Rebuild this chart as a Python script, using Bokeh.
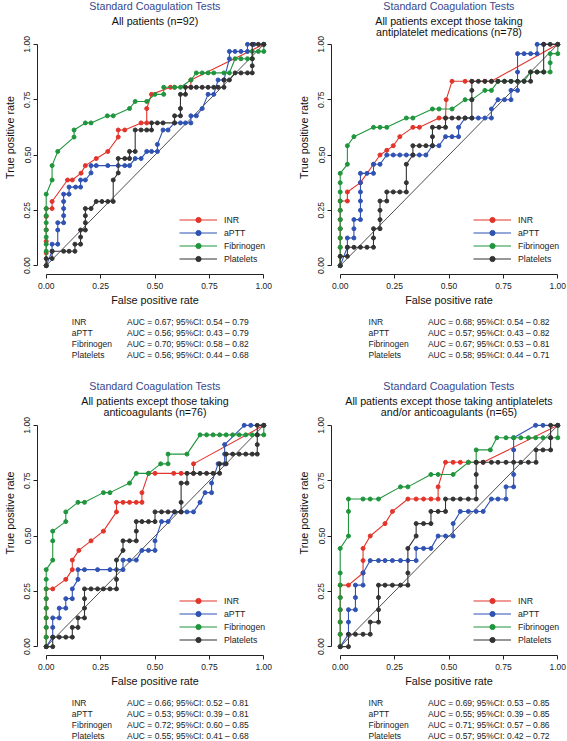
from bokeh.plotting import figure
from bokeh.models import Range1d, FixedTicker, Legend, LegendItem, PrintfTickFormatter
from bokeh.core.properties import value
from bokeh.layouts import column, row
from bokeh.embed import file_html
from bokeh.resources import INLINE

FONT = "Liberation Sans"
TITLE_COLOR = "#38478a"
tests = ["INR", "aPTT", "Fibrinogen", "Platelets"]
colors = ["#e3342b", "#2f52b3", "#1f953d", "#333333"]
tick_values = [0, 0.25, 0.5, 0.75, 1.0]
tick_labels = ["0.00", "0.25", "0.50", "0.75", "1.00"]
diag = [0, 1]
main_title = "Standard Coagulation Tests"

# ---------------- Panel 1: All patients (n=92) ----------------
p1_subtitle = ["All patients (n=92)"]
p1_inr = [(0, 0), (0, 0.057), (0, 0.11), (0, 0.162), (0, 0.222), (0, 0.258), (0.027, 0.258), (0.027, 0.29),
          (0.098, 0.387), (0.12, 0.387), (0.16, 0.418), (0.18, 0.452), (0.23, 0.484), (0.283, 0.516),
          (0.331, 0.581), (0.331, 0.613), (0.361, 0.613), (0.436, 0.645), (0.462, 0.645), (0.462, 0.71),
          (0.484, 0.774), (0.571, 0.806), (0.59, 0.806), (0.665, 0.806), (0.665, 0.839), (1, 1)]
p1_aptt = [(0, 0), (0.027, 0.065), (0.027, 0.097), (0.053, 0.097), (0.053, 0.161), (0.053, 0.194), (0.08, 0.194),
           (0.08, 0.226), (0.08, 0.258), (0.08, 0.29), (0.08, 0.323), (0.105, 0.323), (0.105, 0.355),
           (0.135, 0.355), (0.158, 0.355), (0.158, 0.387), (0.18, 0.387), (0.206, 0.419), (0.206, 0.452),
           (0.23, 0.452), (0.283, 0.452), (0.331, 0.452), (0.361, 0.452), (0.383, 0.452), (0.409, 0.484),
           (0.436, 0.484), (0.462, 0.516), (0.484, 0.516), (0.511, 0.516), (0.511, 0.548), (0.537, 0.613),
           (0.56, 0.613), (0.59, 0.645), (0.617, 0.645), (0.64, 0.645), (0.665, 0.645), (0.665, 0.677),
           (0.69, 0.677), (0.717, 0.71), (0.744, 0.774), (0.77, 0.774), (0.79, 0.839), (0.817, 0.839),
           (0.842, 0.935), (0.842, 0.968), (0.868, 0.968), (0.895, 0.968), (0.925, 0.968), (0.925, 1.0),
           (0.955, 1.0), (1, 1)]
p1_fib = [(0, 0), (0, 0.065), (0, 0.097), (0, 0.129), (0, 0.161), (0, 0.194), (0, 0.226), (0, 0.258), (0, 0.323),
          (0.027, 0.387), (0.027, 0.452), (0.053, 0.516), (0.128, 0.581), (0.128, 0.613), (0.18, 0.645),
          (0.206, 0.645), (0.281, 0.677), (0.308, 0.677), (0.383, 0.71), (0.409, 0.742), (0.462, 0.742),
          (0.5, 0.774), (0.54, 0.774), (0.54, 0.806), (0.59, 0.806), (0.617, 0.806), (0.665, 0.839),
          (0.69, 0.871), (0.717, 0.871), (0.744, 0.871), (0.77, 0.871), (0.817, 0.871), (0.842, 0.871),
          (0.868, 0.935), (0.895, 0.935), (0.925, 0.935), (0.947, 0.935), (0.947, 0.968), (0.975, 0.968),
          (1, 0.968), (1, 1)]
p1_plt = [(0, 0), (0, 0.032), (0.027, 0.032), (0.027, 0.065), (0.08, 0.065), (0.105, 0.065), (0.132, 0.065),
          (0.132, 0.097), (0.158, 0.097), (0.158, 0.129), (0.158, 0.161), (0.18, 0.161), (0.18, 0.194),
          (0.18, 0.226), (0.18, 0.258), (0.206, 0.258), (0.23, 0.29), (0.256, 0.29), (0.283, 0.29),
          (0.308, 0.29), (0.308, 0.387), (0.331, 0.419), (0.331, 0.484), (0.361, 0.484), (0.383, 0.484),
          (0.383, 0.516), (0.409, 0.516), (0.409, 0.613), (0.436, 0.613), (0.462, 0.613), (0.484, 0.613),
          (0.484, 0.645), (0.511, 0.645), (0.537, 0.645), (0.59, 0.645), (0.59, 0.677), (0.617, 0.677),
          (0.617, 0.71), (0.617, 0.774), (0.64, 0.774), (0.64, 0.806), (0.665, 0.806), (0.69, 0.806),
          (0.717, 0.806), (0.744, 0.806), (0.77, 0.806), (0.79, 0.806), (0.817, 0.806), (0.817, 0.839),
          (0.842, 0.839), (0.868, 0.871), (0.895, 0.871), (0.925, 0.871), (0.947, 0.871), (0.947, 0.903),
          (0.947, 0.935), (0.947, 1.0), (0.975, 1.0), (1, 1)]
p1_auc = [0.67, 0.56, 0.70, 0.56]
p1_ci_lo = [0.54, 0.43, 0.58, 0.44]
p1_ci_hi = [0.79, 0.79, 0.82, 0.68]

# ---------------- Panel 2: except antiplatelet medications (n=78) ----------------
p2_subtitle = ["All patients except those taking", "antiplatelet medications (n=78)"]
p2_inr = [(0, 0), (0, 0.083), (0, 0.125), (0, 0.167), (0, 0.208), (0, 0.25), (0, 0.292), (0.033, 0.292),
          (0.033, 0.333), (0.093, 0.375), (0.153, 0.458), (0.183, 0.5), (0.214, 0.521), (0.244, 0.542),
          (0.274, 0.583), (0.334, 0.625), (0.364, 0.625), (0.454, 0.667), (0.484, 0.667), (0.487, 0.75),
          (0.514, 0.833), (0.574, 0.833), (0.605, 0.833), (0.665, 0.833), (0.695, 0.833), (1, 1)]
p2_aptt = [(0, 0), (0.033, 0.083), (0.033, 0.125), (0.063, 0.125), (0.063, 0.167), (0.063, 0.208), (0.093, 0.208),
           (0.093, 0.25), (0.093, 0.292), (0.093, 0.333), (0.093, 0.375), (0.093, 0.417), (0.123, 0.417),
           (0.153, 0.417), (0.153, 0.458), (0.183, 0.458), (0.214, 0.5), (0.244, 0.5), (0.274, 0.5),
           (0.304, 0.5), (0.334, 0.5), (0.364, 0.5), (0.394, 0.5), (0.424, 0.542), (0.454, 0.542),
           (0.484, 0.583), (0.514, 0.583), (0.544, 0.583), (0.544, 0.625), (0.574, 0.667), (0.605, 0.667),
           (0.635, 0.667), (0.665, 0.667), (0.695, 0.667), (0.695, 0.708), (0.725, 0.75), (0.755, 0.75),
           (0.785, 0.75), (0.785, 0.792), (0.815, 0.792), (0.815, 0.875), (0.815, 0.958), (0.845, 0.958),
           (0.875, 0.958), (0.905, 0.958), (0.905, 1.0), (0.935, 1.0), (1, 1)]
p2_fib = [(0, 0), (0, 0.042), (0, 0.083), (0, 0.125), (0, 0.167), (0, 0.208), (0, 0.25), (0, 0.292), (0, 0.333),
          (0, 0.375), (0, 0.417), (0.033, 0.458), (0.033, 0.542), (0.063, 0.583), (0.153, 0.625),
          (0.183, 0.625), (0.214, 0.625), (0.304, 0.667), (0.334, 0.667), (0.424, 0.708), (0.454, 0.708),
          (0.514, 0.708), (0.574, 0.75), (0.605, 0.75), (0.665, 0.792), (0.695, 0.792), (0.725, 0.833),
          (0.755, 0.833), (0.785, 0.833), (0.815, 0.833), (0.845, 0.833), (0.875, 0.875), (0.905, 0.875),
          (0.935, 0.875), (0.965, 0.875), (0.965, 0.917), (0.965, 0.958), (1, 0.958), (1, 1)]
p2_plt = [(0, 0), (0, 0.042), (0.033, 0.042), (0.033, 0.083), (0.063, 0.083), (0.093, 0.083), (0.123, 0.083),
          (0.153, 0.083), (0.153, 0.125), (0.153, 0.167), (0.183, 0.167), (0.183, 0.208), (0.183, 0.25),
          (0.183, 0.292), (0.214, 0.292), (0.214, 0.333), (0.244, 0.333), (0.274, 0.333), (0.304, 0.333),
          (0.304, 0.375), (0.304, 0.458), (0.334, 0.5), (0.334, 0.542), (0.364, 0.542), (0.394, 0.542),
          (0.424, 0.542), (0.424, 0.583), (0.424, 0.625), (0.454, 0.625), (0.484, 0.625), (0.484, 0.667),
          (0.514, 0.667), (0.544, 0.667), (0.574, 0.667), (0.605, 0.667), (0.605, 0.75), (0.605, 0.792),
          (0.605, 0.833), (0.635, 0.833), (0.665, 0.833), (0.695, 0.833), (0.725, 0.833), (0.755, 0.833),
          (0.785, 0.833), (0.815, 0.833), (0.845, 0.833), (0.875, 0.833), (0.875, 0.875), (0.905, 0.875),
          (0.935, 0.875), (0.935, 1.0), (0.965, 1.0), (1, 1)]
p2_auc = [0.68, 0.57, 0.67, 0.58]
p2_ci_lo = [0.54, 0.43, 0.53, 0.44]
p2_ci_hi = [0.82, 0.82, 0.81, 0.71]

# ---------------- Panel 3: except anticoagulants (n=76) ----------------
p3_subtitle = ["All patients except those taking", "anticoagulants (n=76)"]
p3_inr = [(0, 0), (0, 0.043), (0, 0.087), (0, 0.13), (0, 0.174), (0, 0.217), (0, 0.261), (0.03, 0.261),
          (0.09, 0.304), (0.12, 0.348), (0.12, 0.391), (0.15, 0.435), (0.206, 0.478), (0.263, 0.522),
          (0.323, 0.609), (0.323, 0.652), (0.353, 0.652), (0.383, 0.652), (0.414, 0.652), (0.44, 0.652),
          (0.44, 0.696), (0.47, 0.783), (0.5, 0.783), (0.586, 0.783), (0.62, 0.783), (0.677, 0.783),
          (0.677, 0.826), (1, 1)]
p3_aptt = [(0, 0), (0.03, 0.043), (0.03, 0.087), (0.03, 0.13), (0.06, 0.13), (0.06, 0.174), (0.09, 0.174),
           (0.09, 0.217), (0.12, 0.217), (0.12, 0.261), (0.146, 0.304), (0.146, 0.348), (0.176, 0.348),
           (0.236, 0.348), (0.293, 0.348), (0.323, 0.348), (0.353, 0.348), (0.353, 0.391), (0.383, 0.391),
           (0.414, 0.391), (0.44, 0.435), (0.47, 0.435), (0.5, 0.435), (0.5, 0.478), (0.53, 0.565),
           (0.56, 0.565), (0.59, 0.609), (0.62, 0.609), (0.647, 0.609), (0.677, 0.609), (0.707, 0.652),
           (0.73, 0.696), (0.76, 0.696), (0.76, 0.739), (0.79, 0.826), (0.82, 0.826), (0.82, 0.87),
           (0.82, 0.913), (0.91, 1.0), (0.94, 1.0), (1, 1)]
p3_fib = [(0, 0), (0, 0.043), (0, 0.087), (0, 0.13), (0, 0.174), (0, 0.217), (0, 0.261), (0, 0.304), (0, 0.348),
          (0.03, 0.391), (0.03, 0.478), (0.03, 0.522), (0.09, 0.565), (0.09, 0.609), (0.146, 0.652),
          (0.176, 0.652), (0.263, 0.696), (0.293, 0.696), (0.383, 0.739), (0.414, 0.783), (0.47, 0.783),
          (0.526, 0.826), (0.56, 0.826), (0.56, 0.87), (0.647, 0.87), (0.707, 0.957), (0.737, 0.957),
          (0.767, 0.957), (0.797, 0.957), (0.827, 0.957), (0.857, 0.957), (0.887, 0.957), (0.917, 0.957),
          (0.947, 0.957), (0.97, 0.957), (1, 0.957), (1, 1)]
p3_plt = [(0, 0), (0.03, 0), (0.03, 0.043), (0.06, 0.043), (0.09, 0.043), (0.12, 0.043), (0.12, 0.087),
          (0.146, 0.087), (0.146, 0.13), (0.176, 0.13), (0.176, 0.174), (0.176, 0.217), (0.176, 0.261),
          (0.206, 0.261), (0.236, 0.261), (0.263, 0.261), (0.293, 0.261), (0.323, 0.261), (0.323, 0.304),
          (0.323, 0.391), (0.353, 0.435), (0.353, 0.478), (0.383, 0.478), (0.414, 0.478), (0.414, 0.522),
          (0.414, 0.565), (0.44, 0.565), (0.47, 0.565), (0.5, 0.565), (0.5, 0.609), (0.53, 0.609),
          (0.56, 0.609), (0.59, 0.609), (0.62, 0.609), (0.62, 0.652), (0.62, 0.739), (0.647, 0.739),
          (0.647, 0.783), (0.677, 0.783), (0.707, 0.783), (0.737, 0.783), (0.767, 0.783), (0.797, 0.783),
          (0.797, 0.826), (0.827, 0.826), (0.827, 0.87), (0.857, 0.87), (0.887, 0.87), (0.917, 0.87),
          (0.947, 0.87), (0.97, 0.87), (0.97, 0.913), (0.97, 0.957), (0.97, 1.0), (1, 1)]
p3_auc = [0.66, 0.53, 0.72, 0.55]
p3_ci_lo = [0.52, 0.39, 0.60, 0.41]
p3_ci_hi = [0.81, 0.81, 0.85, 0.68]

# ---------------- Panel 4: except antiplatelets and/or anticoagulants (n=65) ----------------
p4_subtitle = ["All patients except those taking antiplatelets", "and/or anticoagulants (n=65)"]
p4_inr = [(0, 0), (0, 0.056), (0, 0.111), (0, 0.167), (0, 0.222), (0, 0.278), (0.038, 0.278), (0.105, 0.333),
          (0.105, 0.389), (0.105, 0.444), (0.138, 0.5), (0.206, 0.556), (0.24, 0.611), (0.311, 0.667),
          (0.349, 0.667), (0.383, 0.667), (0.417, 0.667), (0.45, 0.667), (0.45, 0.722), (0.484, 0.833),
          (0.519, 0.833), (0.552, 0.833), (0.589, 0.833), (0.625, 0.833), (0.657, 0.833), (1, 1)]
p4_aptt = [(0, 0), (0.038, 0.056), (0.038, 0.111), (0.038, 0.167), (0.07, 0.167), (0.07, 0.222), (0.07, 0.278),
           (0.105, 0.278), (0.105, 0.333), (0.138, 0.389), (0.176, 0.389), (0.206, 0.389), (0.24, 0.389),
           (0.277, 0.389), (0.311, 0.389), (0.349, 0.389), (0.349, 0.444), (0.383, 0.444), (0.417, 0.444),
           (0.45, 0.5), (0.484, 0.5), (0.519, 0.5), (0.519, 0.556), (0.552, 0.611), (0.589, 0.611),
           (0.625, 0.611), (0.657, 0.611), (0.695, 0.667), (0.725, 0.667), (0.762, 0.667), (0.762, 0.722),
           (0.797, 0.722), (0.797, 0.778), (0.797, 0.889), (0.797, 0.944), (0.898, 1.0), (0.932, 1.0), (1, 1)]
p4_fib = [(0, 0), (0, 0.056), (0, 0.111), (0, 0.167), (0, 0.222), (0, 0.278), (0, 0.333), (0, 0.444),
          (0.038, 0.5), (0.038, 0.611), (0.038, 0.667), (0.105, 0.667), (0.138, 0.667), (0.176, 0.667),
          (0.277, 0.722), (0.311, 0.722), (0.417, 0.778), (0.45, 0.778), (0.519, 0.778), (0.589, 0.833),
          (0.625, 0.833), (0.625, 0.889), (0.69, 0.889), (0.72, 0.944), (0.762, 0.944), (0.797, 0.944),
          (0.83, 0.944), (0.865, 0.944), (0.898, 0.944), (0.932, 0.944), (0.967, 0.944), (1, 0.944), (1, 1)]
p4_plt = [(0, 0), (0.038, 0), (0.038, 0.056), (0.07, 0.056), (0.105, 0.056), (0.138, 0.056), (0.138, 0.111),
          (0.176, 0.111), (0.176, 0.167), (0.176, 0.222), (0.176, 0.278), (0.206, 0.278), (0.24, 0.278),
          (0.277, 0.278), (0.311, 0.278), (0.311, 0.333), (0.311, 0.444), (0.349, 0.5), (0.349, 0.556),
          (0.383, 0.556), (0.417, 0.556), (0.417, 0.611), (0.45, 0.611), (0.484, 0.611), (0.484, 0.667),
          (0.519, 0.667), (0.552, 0.667), (0.589, 0.667), (0.625, 0.667), (0.625, 0.722), (0.625, 0.778),
          (0.625, 0.833), (0.657, 0.833), (0.695, 0.833), (0.725, 0.833), (0.762, 0.833), (0.797, 0.833),
          (0.83, 0.833), (0.865, 0.833), (0.9, 0.833), (0.9, 0.889), (0.932, 0.889), (0.967, 0.889),
          (0.967, 0.944), (0.967, 1.0), (1, 1)]
p4_auc = [0.69, 0.55, 0.71, 0.57]
p4_ci_lo = [0.53, 0.39, 0.57, 0.42]
p4_ci_hi = [0.85, 0.85, 0.86, 0.72]

# ---------------- layout constants ----------------
LO, HI = -0.04, 1.04
FRAME = 239          # pixel size of the square data area
LEFT = 33            # left border (y axis)
BOTTOM = 34          # bottom border (x axis)
S = FRAME / (HI - LO)  # pixels per data unit


def text_strip(width, height):
    """A blank figure used only to hold text (pixel coordinates, y downwards)."""
    s = figure(width=width, height=height, x_range=Range1d(0, width), y_range=Range1d(height, 0),
               output_backend="svg", toolbar_location=None, x_axis_type=None, y_axis_type=None,
               min_border_left=0, min_border_right=0, min_border_top=0, min_border_bottom=0)
    s.outline_line_color = None
    s.xgrid.visible = False
    s.ygrid.visible = False
    s.border_fill_color = "white"
    s.background_fill_color = "white"
    return s


def make_table(aucs, lo, hi, width, height, row_ys):
    t = text_strip(width, height)
    rows = ["AUC = %.2f; 95%%CI: %.2f \u2013 %.2f" % (a, l, u) for a, l, u in zip(aucs, lo, hi)]
    t.text(x=[LEFT + 10] * 4, y=row_ys, text=tests, text_baseline="middle",
           text_font=value(FONT), text_font_size=value("8.5px"), text_color="#222222")
    t.text(x=[LEFT + 79] * 4, y=row_ys, text=rows, text_baseline="middle",
           text_font=value(FONT), text_font_size=value("8.5px"), text_color="#222222")
    return t


def make_main(curves, subtitle, width, head_h, title_y, sub_ys):
    # the data frame is extended upward by head_h pixels to hold the titles
    top = HI + head_h / S
    p = figure(width=width, height=head_h + FRAME + BOTTOM, x_range=Range1d(LO, HI), y_range=Range1d(LO, top),
               output_backend="svg", toolbar_location=None,
               min_border_left=LEFT, min_border_top=0,
               min_border_right=width - LEFT - FRAME, min_border_bottom=BOTTOM)
    p.outline_line_color = None
    p.xgrid.visible = False
    p.ygrid.visible = False
    p.background_fill_color = "white"
    p.border_fill_color = "white"

    for ax in (p.xaxis[0], p.yaxis[0]):
        ax.bounds = (0, 1)
        ax.ticker = FixedTicker(ticks=tick_values)
        ax.formatter = PrintfTickFormatter(format="%.2f")
        ax.major_label_overrides = {v: l for v, l in zip(tick_values, tick_labels)}
        ax.minor_tick_line_color = None
        ax.major_tick_in = 0
        ax.major_tick_out = 4
        ax.axis_line_color = "#222222"
        ax.major_tick_line_color = "#222222"
        ax.major_label_text_font = FONT
        ax.major_label_text_font_size = "8.5px"
        ax.major_label_text_color = "#222222"
        ax.axis_label_text_font = FONT
        ax.axis_label_text_font_size = "10.8px"
        ax.axis_label_text_font_style = "normal"
        ax.axis_label_text_color = "#111111"
    p.xaxis.axis_label = "False positive rate"
    p.yaxis.axis_label = "True positive rate"
    p.xaxis.major_label_standoff = 4
    p.xaxis.axis_label_standoff = 2
    p.yaxis.major_label_standoff = 3
    p.yaxis.axis_label_standoff = 6
    p.yaxis.major_label_orientation = "vertical"
    p.yaxis.axis_label_align = "center"

    p.line(diag, diag, color="#222222", line_width=0.8)

    items = []
    for name, pts, col in zip(tests, curves, colors):
        xs = [a for a, b in pts]
        ys = [b for a, b in pts]
        lr = p.line(xs, ys, color=col, line_width=1.1)
        sr = p.scatter(xs, ys, size=4, color=col)
        items.append(LegendItem(label=name, renderers=[lr, sr]))
    leg = Legend(items=items, location=(142, 9), border_line_color=None, background_fill_alpha=0,
                 padding=0, margin=0, spacing=0, glyph_height=13, glyph_width=38, label_height=13,
                 label_standoff=7, label_text_font=FONT, label_text_font_size="8.7px",
                 label_text_color="#222222")
    p.add_layout(leg)

    # titles (pixel offsets from the top of the figure converted to data units)
    def ydat(px):
        return top - px / S
    p.text(x=[0.5], y=[ydat(title_y)], text=[main_title], text_align="center", text_baseline="middle",
           text_font=value(FONT), text_font_size=value("10.7px"), text_color=TITLE_COLOR)
    p.text(x=[0.5] * len(subtitle), y=[ydat(v) for v in sub_ys[:len(subtitle)]], text=subtitle,
           text_align="center", text_baseline="middle", text_font=value(FONT),
           text_font_size=value("10.7px"), text_color="#111111")
    return p


def make_panel(subtitle, curves, aucs, lo, hi, width, head_h, table_h, title_y, sub_ys, row_ys):
    main = make_main(curves, subtitle, width, head_h, title_y, sub_ys)
    table = make_table(aucs, lo, hi, width, table_h, row_ys)
    return column(main, table, spacing=0)


ROWS = [13, 24, 35, 46]
# top row: 35 px title area + 239 frame + 34 axis = 308, table 62 -> 370
panel1 = make_panel(p1_subtitle, [p1_inr, p1_aptt, p1_fib, p1_plt], p1_auc, p1_ci_lo, p1_ci_hi,
                    294, 35, 62, 5.5, [20, 31], ROWS)
panel2 = make_panel(p2_subtitle, [p2_inr, p2_aptt, p2_fib, p2_plt], p2_auc, p2_ci_lo, p2_ci_hi,
                    273, 35, 62, 5.5, [20, 31], ROWS)
# bottom row: 46 px title area + 239 + 34 = 319, table 52 -> 371
panel3 = make_panel(p3_subtitle, [p3_inr, p3_aptt, p3_fib, p3_plt], p3_auc, p3_ci_lo, p3_ci_hi,
                    294, 46, 52, 15, [30, 41.5], ROWS)
panel4 = make_panel(p4_subtitle, [p4_inr, p4_aptt, p4_fib, p4_plt], p4_auc, p4_ci_lo, p4_ci_hi,
                    273, 46, 52, 15, [30, 41.5], ROWS)

layout = column(row(panel1, panel2, spacing=0), row(panel3, panel4, spacing=0), spacing=0)
open("out.html", "w").write(file_html(layout, INLINE))
